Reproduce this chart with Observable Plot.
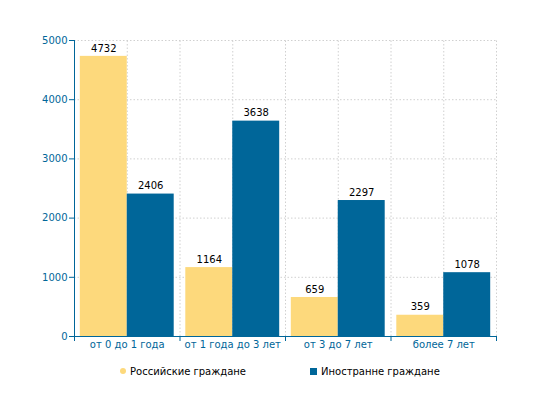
<!DOCTYPE html>
<html><head><meta charset="utf-8">
<script src="https://cdn.jsdelivr.net/npm/d3@7"></script>
<script src="https://cdn.jsdelivr.net/npm/@observablehq/plot@0.6"></script>
<style>
body{margin:0;background:#fff;font-family:"DejaVu Sans",sans-serif;}
#wrap{position:relative;width:550px;height:400px;}
#legend{position:absolute;left:0;top:366px;width:550px;font-size:10px;color:#000;}
.item{position:absolute;top:0;white-space:nowrap;}
.sw{display:inline-block;vertical-align:middle;margin-right:4px;position:relative;top:-1px;}
</style>
</head><body><div id="wrap"><div id="chart"></div><div id="legend"></div></div>
<script>
const categories = ["от 0 до 1 года", "от 1 года до 3 лет", "от 3 до 7 лет", "более 7 лет"];
const seriesNames = ["Российские граждане", "Иностранне граждане"];
const russian = [4732, 1164, 659, 359];
const foreign = [2406, 3638, 2297, 1078];
const yTicks = [0, 1000, 2000, 3000, 4000, 5000];
const colors = ["#FDD97C", "#006699"];

const pad = 0.055, w = 0.445;
const data = categories.flatMap((c, i) => [
  {cat: c, i, s: 0, series: seriesNames[0], value: russian[i]},
  {cat: c, i, s: 1, series: seriesNames[1], value: foreign[i]}
]);
const bounds = d3.range(0, categories.length + 0.01, 0.5);
const axisBlue = "#006699";

const chart = Plot.plot({
  width: 550,
  height: 355,
  marginTop: 40,
  marginBottom: 19,
  marginLeft: 74,
  marginRight: 54,
  style: {fontFamily: "DejaVu Sans, sans-serif", fontSize: "10px", background: "#fff"},
  x: {type: "linear", domain: [0, categories.length]},
  y: {domain: [0, 5000]},
  color: {domain: seriesNames, range: colors},
  marks: [
    Plot.ruleX(bounds.slice(1), {y1: 0, y2: 5000, stroke: "#d0d0d0", strokeDasharray: "1.5,2"}),
    Plot.ruleY(yTicks.slice(1), {stroke: "#d0d0d0", strokeDasharray: "1.5,2"}),
    Plot.rect(data, {
      x1: d => d.i + pad + d.s * w,
      x2: d => d.i + pad + (d.s + 1) * w,
      y1: d => 0,
      y2: d => d.value,
      fill: "series"
    }),
    Plot.text(data, {
      x: d => d.i + pad + d.s * w + w / 2,
      y: d => d.value,
      text: d => String(d.value),
      dy: -8,
      fill: "#000",
      fontSize: 10
    }),
    Plot.ruleX([0], {stroke: axisBlue}),
    Plot.ruleY([0], {stroke: axisBlue}),
    Plot.axisY({ticks: yTicks, tickSize: 5, tickPadding: 2, color: axisBlue, stroke: axisBlue, tickFormat: d => String(d), label: null}),
    Plot.axisX({ticks: d3.range(0, categories.length + 1), tickSize: 5, color: axisBlue, stroke: axisBlue, tickFormat: () => "", label: null}),
    Plot.axisX({ticks: categories.map((c, i) => i + 0.5), tickSize: 0, tickPadding: 4, color: axisBlue, tickFormat: d => categories[Math.floor(d)], label: null})
  ]
});
document.getElementById("chart").appendChild(chart);

const legend = document.getElementById("legend");
const lx = [120, 310];
seriesNames.forEach((n, k) => {
  const it = document.createElement("div");
  it.className = "item";
  it.style.left = lx[k] + "px";
  const sw = document.createElement("span");
  sw.className = "sw";
  sw.style.width = k === 0 ? "6px" : "7px";
  sw.style.height = k === 0 ? "6px" : "7px";
  sw.style.borderRadius = k === 0 ? "50%" : "0";
  sw.style.background = colors[k];
  it.appendChild(sw);
  it.appendChild(document.createTextNode(n));
  legend.appendChild(it);
});
</script></body></html>
